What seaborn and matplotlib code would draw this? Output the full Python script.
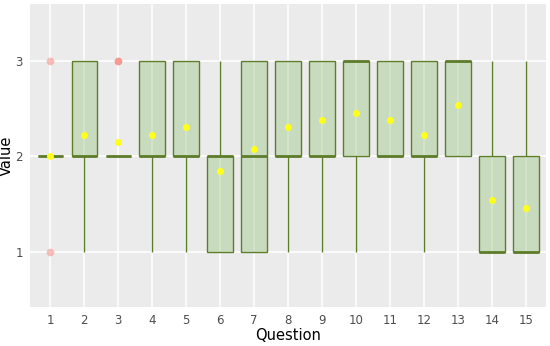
import numpy as np
import pandas as pd
import seaborn as sns
import matplotlib.pyplot as plt

# counts of answers 1, 2, 3 per question (13 respondents)
questions = list(range(1, 16))
count_1 = [1, 1, 0, 1, 1, 4, 4, 1, 1, 1, 0, 1, 0, 7, 8]
count_2 = [11, 8, 11, 8, 7, 7, 4, 7, 6, 5, 8, 8, 6, 5, 4]
count_3 = [1, 4, 2, 4, 5, 2, 5, 5, 6, 7, 5, 4, 7, 1, 1]

rows = []
for q, a, b, c in zip(questions, count_1, count_2, count_3):
    rows += [(q, 1)] * a + [(q, 2)] * b + [(q, 3)] * c
df = pd.DataFrame(rows, columns=["Question", "Value"])
df["Question"] = df["Question"].astype(str)

sns.set_theme(style="darkgrid", rc={
    "axes.facecolor": "#EBEBEB",
    "grid.color": "white",
    "grid.linewidth": 1.1,
})
plt.rcParams["font.family"] = ["DejaVu Sans"]

fig = plt.figure(figsize=(5.5, 3.46), dpi=100)
ax = fig.add_axes([0.0545, 0.113, 0.9385, 0.875])

edge = "#5E7D2A"
sns.boxplot(
    data=df, x="Question", y="Value", order=[str(q) for q in questions],
    width=0.75, showcaps=False, showmeans=True, ax=ax,
    boxprops=dict(facecolor=(0.59, 0.765, 0.49, 0.4), edgecolor=edge, linewidth=1.0),
    whiskerprops=dict(color=edge, linewidth=1.0),
    medianprops=dict(color=edge, linewidth=2.0),
    flierprops=dict(marker="o", markerfacecolor=(0.97, 0.45, 0.42, 0.45),
                    markeredgecolor="none", markersize=5.5),
    meanprops=dict(marker="o", markerfacecolor="#FFFF1A",
                   markeredgecolor="none", markersize=5),
)

ax.set_ylim(0.42, 3.6)
ax.set_xlim(-0.6, 14.6)
ax.set_yticks([1, 2, 3])
ax.grid(True, color="white", linewidth=1.1)
ax.set_axisbelow(True)
for s in ax.spines.values():
    s.set_visible(False)
ax.tick_params(axis="both", length=3, width=0.8, color="#333333",
               labelsize=8.5, labelcolor="#4D4D4D", pad=2)
ax.set_xlabel("Question", fontsize=10.5, color="black", labelpad=1)
ax.set_ylabel("Value", fontsize=10.5, color="black")
ax.yaxis.set_label_coords(-0.032, 0.5)

fig.savefig("out.png", dpi=100)
